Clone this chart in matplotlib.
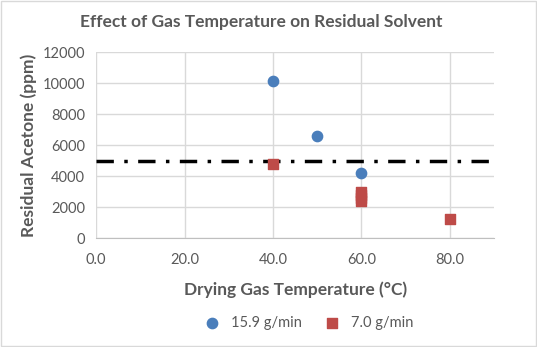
import matplotlib.pyplot as plt
from matplotlib.patches import Rectangle

# data
temp_fast = [40, 50, 60]
acetone_fast = [10100, 6600, 4200]
temp_slow = [40, 60, 60, 60, 60, 80]
acetone_slow = [4800, 3000, 2800, 2600, 2400, 1200]
limit_ppm = 5000

grey = "#595959"
plt.rcParams["font.family"] = ["Lato", "DejaVu Sans"]

fig = plt.figure(figsize=(5.37, 3.47), dpi=100)
ax = fig.add_axes([0.179, 0.314, 0.741, 0.536])

# light border round the whole chart
fig.patches.append(Rectangle((0.002, 0.003), 0.996, 0.994, transform=fig.transFigure,
                             fill=False, edgecolor="#d9d9d9", linewidth=1))

ax.axhline(limit_ppm, color="black", linewidth=2.5, linestyle=(0, (5, 3, 1, 3)), zorder=2)
ax.scatter(temp_fast, acetone_fast, s=55, marker="o", color="#4a7ebb", label="15.9 g/min", zorder=3)
ax.scatter(temp_slow, acetone_slow, s=55, marker="s", color="#be4b48", label="7.0 g/min", zorder=3)

ax.set_xlim(0, 90)
ax.set_ylim(0, 12000)
ax.set_xticks([0, 20, 40, 60, 80])
ax.set_xticklabels(["0.0", "20.0", "40.0", "60.0", "80.0"])
ax.set_yticks(range(0, 12001, 2000))
ax.grid(True, color="#d9d9d9", linewidth=1)
ax.set_axisbelow(True)
for side in ["top", "right", "left"]:
    ax.spines[side].set_visible(False)
ax.spines["bottom"].set_color("#bfbfbf")
ax.tick_params(axis="x", length=0, colors=grey, labelsize=10.5, pad=11)
ax.tick_params(axis="y", length=0, colors=grey, labelsize=10.5, pad=8)

fig.suptitle("Effect of Gas Temperature on Residual Solvent", x=0.487, y=0.937, va="center",
             fontsize=12.5, fontweight="bold", color=grey)
ax.set_xlabel("Drying Gas Temperature (°C)", fontsize=12.5, fontweight="bold", color=grey, labelpad=10)
ax.set_ylabel("Residual Acetone (ppm)", fontsize=12.5, fontweight="bold", color=grey, labelpad=4)

leg = ax.legend(loc="center", bbox_to_anchor=(0.535, -0.455), ncol=2, frameon=False,
                fontsize=10.5, labelcolor=grey, handlelength=1.0, handletextpad=0.8,
                columnspacing=1.6)

fig.savefig("out.png", dpi=100)
